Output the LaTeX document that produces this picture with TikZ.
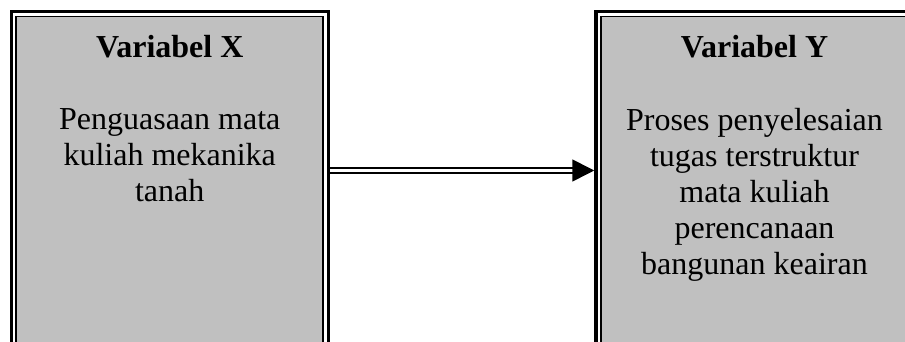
\documentclass[tikz,border=0pt]{standalone}
\usepackage{fontspec}
\setmainfont{Liberation Serif}
\usepackage{tikz}
\usetikzlibrary{arrows.meta,calc}
\definecolor{panelgray}{RGB}{192,192,192}
\tikzset{
  frame/.style={rectangle,draw=black,line width=3.5pt,fill=white,
    minimum width=317pt,minimum height=394pt,inner sep=0pt},
  panel/.style={rectangle,draw=black,line width=1.6pt,fill=panelgray,
    minimum width=307pt,minimum height=384pt,inner sep=0pt},
  vartitle/.style={font=\fontsize{32}{36}\selectfont\bfseries,
    inner sep=0pt,anchor=base},
  vartext/.style={font=\fontsize{32}{36}\selectfont,align=center,
    inner sep=0pt,anchor=north},
  arr/.style={double=white,double distance=3.5pt,line width=1.6pt,
    -{Triangle[length=22pt,width=22pt]}}
}

\begin{document}
\begin{tikzpicture}[x=1pt,y=1pt]
  \useasboundingbox (0,0) rectangle (905,342);
  \clip (0,0) rectangle (905,342);
  % the two variables, boxes run past the lower edge
  \node[frame] (frameX) at (169.75,133.5) {};
  \node[panel] (boxX) at (frameX.center) {};
  \node[frame] (frameY) at (754.5,133.5) {};
  \node[panel] (boxY) at (frameY.center) {};
  \node[vartitle] (titleX) at ($(boxX.north)+(0,-41.5)$) {Variabel X};
  \node[vartext] (textX) at ($(boxX.north)+(0,-92.3)$)
    {Penguasaan mata\\ kuliah mekanika\\ tanah};
  \node[vartitle] (titleY) at ($(boxY.north)+(0,-41.5)$) {Variabel Y};
  \node[vartext] (textY) at ($(boxY.north)+(0,-92.3)$)
    {Proses penyelesaian\\ tugas terstruktur\\ mata kuliah\\ perencanaan\\ bangunan keairan};
  % X -> Y
  \coordinate (row) at (0,171.5);
  \draw[arr] (frameX.east |- row) -- (frameY.west |- row);
\end{tikzpicture}
\end{document}
